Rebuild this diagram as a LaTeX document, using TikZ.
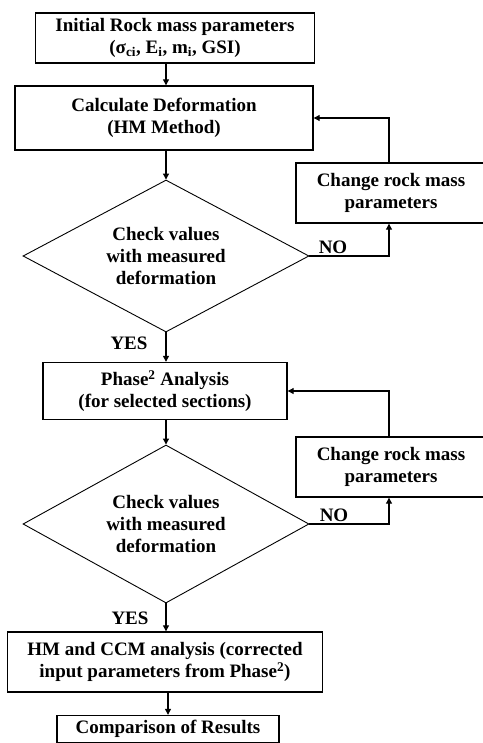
\documentclass[tikz,border=0pt]{standalone}
\usepackage{fontspec}
\setmainfont{Liberation Serif}
\usetikzlibrary{shapes.geometric,arrows.meta}
\begin{document}
\begin{tikzpicture}[x=1pt,y=-1pt,
  box/.style={draw,line width=1.4pt,inner sep=0pt,align=center,font=\fontsize{19}{22}\selectfont\bfseries},
  dia/.style={draw,diamond,line width=0.9pt,inner sep=0pt,align=center,font=\fontsize{19}{22}\selectfont\bfseries},
  lbl/.style={font=\fontsize{19}{22}\selectfont\bfseries,inner sep=0pt},
  conn/.style={line width=1.1pt,-{Triangle[length=6pt,width=6pt]}}]
\useasboundingbox (0,0) rectangle (482,743);
\node[box,minimum width=279pt,minimum height=50pt] (b1) at (175,38) {Initial Rock mass parameters\\(σ\textsubscript{ci}, E\textsubscript{i}, m\textsubscript{i}, GSI)};
\node[box,minimum width=298pt,minimum height=64pt] (b2) at (164,118) {Calculate Deformation\\(HM Method)};
\node[box,minimum width=190pt,minimum height=60pt] (c1) at (391,193) {Change rock mass\\parameters};
\node[dia,aspect=1.88,minimum width=286pt,minimum height=152pt] (d1) at (166,256) {Check values\\with measured\\deformation};
\node[box,minimum width=244pt,minimum height=57pt] (b3) at (165,391) {Phase\textsuperscript{2} Analysis\\(for selected sections)};
\node[box,minimum width=190pt,minimum height=60pt] (c2) at (391,467) {Change rock mass\\parameters};
\node[dia,aspect=1.81,minimum width=286pt,minimum height=158pt] (d2) at (166,524) {Check values\\with measured\\deformation};
\node[box,minimum width=315pt,minimum height=60pt] (b4) at (165,662) {HM and CCM analysis (corrected\\input parameters from Phase\textsuperscript{2})};
\node[box,minimum width=222pt,minimum height=27pt] (b5) at (168,729) {Comparison of Results};
\node[lbl] (no1) at (333,247) {NO};
\node[lbl] (yes1) at (129,343) {YES};
\node[lbl] (no2) at (334,515) {NO};
\node[lbl] (yes2) at (130,618) {YES};
\draw[conn] (b1.south -| d1.north) -- (b2.north -| d1.north);
\draw[conn] (b2.south -| d1.north) -- (d1.north);
\draw[conn] (d1.south) -- (b3.north -| d1.south);
\draw[conn] (b3.south -| d2.north) -- (d2.north);
\draw[conn] (d2.south) -- (b4.north -| d2.south);
\draw[conn] (b4.south -| b5.north) -- (b5.north);
\draw[conn] (d1.east) -| ([xshift=-2pt]c1.south);
\draw[conn] ([xshift=-2pt]c1.north) |- (b2.east);
\draw[conn] (d2.east) -| ([xshift=-2pt]c2.south);
\draw[conn] ([xshift=-2pt]c2.north) |- (b3.east);
\end{tikzpicture}
\end{document}
